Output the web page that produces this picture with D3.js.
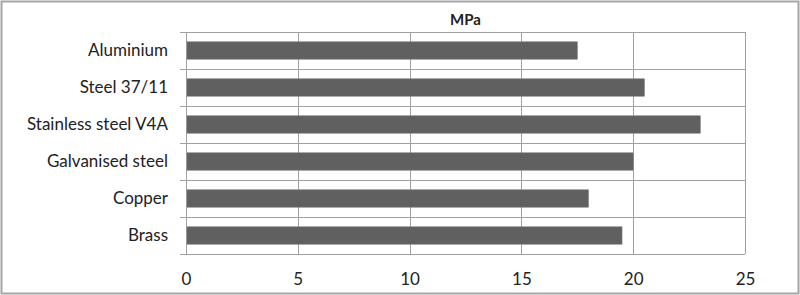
<!DOCTYPE html>
<html>
<head>
<meta charset="utf-8">
<script src="https://cdn.jsdelivr.net/npm/d3@7"></script>
<style>
  body { margin: 0; background: #fff; }
  text { font-family: Lato, "Open Sans", sans-serif; fill: #222; }
</style>
</head>
<body>
<svg></svg>
<script>
// data
var materials = ['Aluminium', 'Steel 37/11', 'Stainless steel V4A', 'Galvanised steel', 'Copper', 'Brass'];
var mpa = [17.5, 20.5, 23, 20, 18, 19.5];
var xTicks = [0, 5, 10, 15, 20, 25];

var canvasWidth = 800;
var canvasHeight = 295;
var margin = { top: 32, right: 55, bottom: 41, left: 186 };
var width = canvasWidth - margin.left - margin.right;
var height = canvasHeight - margin.top - margin.bottom;

var svg = d3.select('svg')
  .attr('width', canvasWidth)
  .attr('height', canvasHeight);

// outer frame
svg.append('rect')
  .attr('x', 1.5).attr('y', 1.5)
  .attr('width', canvasWidth - 3).attr('height', canvasHeight - 3)
  .attr('fill', 'none')
  .attr('stroke', '#a6a6a6')
  .attr('stroke-width', 2);

//title
svg.append('text')
  .attr('x', margin.left + width / 2)
  .attr('y', 25)
  .attr('text-anchor', 'middle')
  .style('font-size', '15px')
  .style('font-weight', 'bold')
  .text('MPa');

var g = svg.append('g')
  .attr('transform', 'translate(' + margin.left + ',' + margin.top + ')');

var xScale = d3.scaleLinear().domain([0, 25]).range([0, width]);
var yScale = d3.scaleBand().domain(materials).range([0, height]).paddingInner(0.53).paddingOuter(0.265);
var bandStep = height / materials.length;

// vertical grid
g.selectAll('.vgrid')
  .data(xTicks)
  .enter()
  .append('line')
  .attr('x1', function(d) { return Math.round(xScale(d)) + 0.5; })
  .attr('x2', function(d) { return Math.round(xScale(d)) + 0.5; })
  .attr('y1', 0).attr('y2', height)
  .attr('stroke', '#a0a0a0');

// horizontal grid at category boundaries (with small ticks on the left)
g.selectAll('.hgrid')
  .data(d3.range(materials.length + 1))
  .enter()
  .append('line')
  .attr('x1', -6).attr('x2', width)
  .attr('y1', function(i) { return Math.round(i * bandStep) + 0.5; })
  .attr('y2', function(i) { return Math.round(i * bandStep) + 0.5; })
  .attr('stroke', '#a0a0a0');

// bars
g.selectAll('.bar')
  .data(materials)
  .enter()
  .append('rect')
  .attr('x', xScale(0) + 1)
  .attr('y', function(d) { return yScale(d); })
  .attr('width', function(d, i) { return xScale(mpa[i]) - xScale(0) - 1; })
  .attr('height', yScale.bandwidth())
  .attr('fill', '#606060')
  .attr('stroke', '#7a7a7a')
  .attr('stroke-width', 0.6);

// category labels
g.selectAll('.cat')
  .data(materials)
  .enter()
  .append('text')
  .attr('x', -18)
  .attr('y', function(d) { return yScale(d) + yScale.bandwidth() / 2; })
  .attr('dy', '0.35em')
  .attr('text-anchor', 'end')
  .style('font-size', '17px')
  .text(function(d) { return d; });

// x tick labels
var xAxis = d3.axisBottom(xScale).tickValues(xTicks).tickSize(0).tickPadding(19);
var ax = g.append('g')
  .attr('transform', 'translate(0,' + height + ')')
  .call(xAxis);
ax.select('.domain').remove();
ax.selectAll('text')
  .style('font-family', 'Lato, "Open Sans", sans-serif')
  .style('font-size', '17px')
  .attr('fill', '#222');
</script>
</body>
</html>
